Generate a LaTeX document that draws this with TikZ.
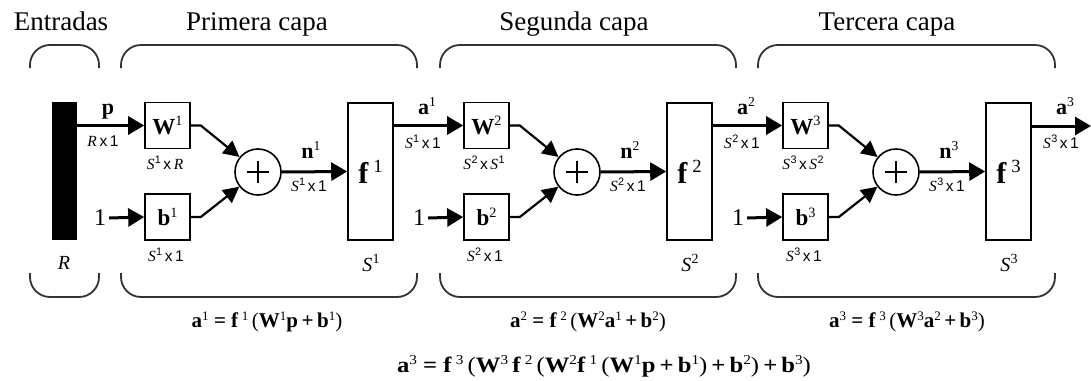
\documentclass[tikz,border=0pt]{standalone}
\usepackage{fontspec}
\usepackage{graphicx}
\setmainfont{Liberation Serif}
\setsansfont{Liberation Sans}
\usetikzlibrary{arrows.meta}
\newcommand\supr[1]{\raisebox{0.36em}{\mdseries\scalebox{0.62}{#1}}}
\newcommand\Sv[1]{{\rmfamily\itshape S}\kern0.3pt\raisebox{0.4em}{\scalebox{0.7}{#1}}}
\begin{document}
\begin{tikzpicture}[x=1pt,y=-1pt,
  box/.style={draw, line width=1.6pt, minimum width=45pt, minimum height=46pt, inner sep=0pt, font=\fontsize{23}{23}\selectfont\bfseries},
  fbox/.style={draw, line width=1.6pt, minimum width=45pt, minimum height=137pt, inner sep=0pt, font=\fontsize{30}{30}\selectfont\bfseries},
  sumnode/.style={draw, circle, line width=1.6pt, minimum size=46pt, inner sep=0pt},
  arr/.style={line width=3pt, -{Triangle[length=16pt,width=18pt]}},
  darr/.style={line width=2.2pt, -{Triangle[length=16pt,width=16pt]}},
  brace/.style={line width=1.8pt, rounded corners=20pt, draw=black!80},
  dimlab/.style={font=\fontsize{15.5}{15.5}\selectfont\sffamily, inner sep=0pt},
  toplab/.style={font=\fontsize{22}{22}\selectfont\bfseries, inner sep=0pt, anchor=base},
  onelab/.style={font=\fontsize{24}{24}\selectfont, inner ysep=0pt, inner xsep=3pt},
  slab/.style={font=\fontsize{20}{20}\selectfont, inner sep=0pt},
  head/.style={font=\fontsize{27}{27}\selectfont, inner sep=0pt, anchor=base},
  eqlab/.style={font=\fontsize{21}{21}\selectfont, inner sep=0pt}
]
\useasboundingbox (0,0) rectangle (1091,380);

% headers
\node[head] (hE) at (61,30) {Entradas};
\node[head] (hP) at (257,30) {Primera capa};
\node[head] (hS) at (574,30) {Segunda capa};
\node[head] (hT) at (887,30) {Tercera capa};

% braces
\foreach \a/\b in {30/99, 121/417, 440/736, 758/1055}{
  \draw[brace] (\a,68) -- (\a,45) -- (\b,45) -- (\b,68);
  \draw[brace] (\a,273) -- (\a,297) -- (\b,297) -- (\b,273);
}

% input bar
\node[fill=black, minimum width=25pt, minimum height=138pt, inner sep=0pt] (bar) at (64.5,171) {};
\node[slab] (Rlab) at (64,263) {\textit{R}};

% layers
\foreach \i/\o in {1/0, 2/319, 3/638}{
  \node[box] (W\i) at (167.5+\o,125.5) {W\supr{\i}};
  \node[box] (b\i) at (167.5+\o,217) {b\supr{\i}};
  \node[sumnode] (s\i) at (258+\o,172) {};
  \draw[line width=1.1pt] ([xshift=-11pt]s\i.center) -- ([xshift=11pt]s\i.center);
  \draw[line width=1.1pt] ([yshift=-11pt]s\i.center) -- ([yshift=11pt]s\i.center);
  \node[fbox] (f\i) at (370.5+\o,171.5) {f\,\supr{\i}};
  \node[onelab] (one\i) at (100+\o,218) {1};
  \draw[arr] (one\i.east) -- (b\i.west);
  \draw[darr] (W\i.east) -- ++(10,0) -- (s\i);
  \draw[darr] (b\i.east) -- ++(10,0) -- (s\i);
  \draw[arr] (s\i.east) -- (f\i.west);
  \node[toplab] (n\i) at (311+\o,158) {n\supr{\i}};
  \node[dimlab] (dn\i) at (309+\o,185) {\Sv{\i}\,x\,1};
  \node[dimlab] (db\i) at (166+\o,255) {\Sv{\i}\,x\,1};
  \node[slab] (Sf\i) at (371+\o,263) {\Sv{\i}};
}
\node[dimlab] (dW1) at (165,163) {\Sv{1}\,x\,{\rmfamily\itshape R}};
\node[dimlab] (dW2) at (484,163) {\Sv{2}\,x\,\Sv{1}};
\node[dimlab] (dW3) at (803,163) {\Sv{3}\,x\,\Sv{2}};

% inputs between layers
\draw[arr] (bar.east |- W1.west) -- (W1.west);
\draw[arr] (f1.east |- W2.west) -- (W2.west);
\draw[arr] (f2.east |- W3.west) -- (W3.west);
\coordinate (out) at (1091,126);
\draw[arr] (f3.east |- out) -- (out);

\node[toplab] (pl) at (108,114) {p};
\node[toplab] (a1l) at (427,114) {a\supr{1}};
\node[toplab] (a2l) at (746,114) {a\supr{2}};
\node[toplab] (a3l) at (1065,114) {a\supr{3}};
\node[dimlab] (dp) at (103,141) {{\rmfamily\itshape R}\,x\,1};
\node[dimlab] (da1) at (423,142) {\Sv{1}\,x\,1};
\node[dimlab] (da2) at (742,142) {\Sv{2}\,x\,1};
\node[dimlab] (da3) at (1061,142) {\Sv{3}\,x\,1};

% equations
\node[eqlab] (eq1) at (267,322) {\textbf{a}\supr{1} \textbf{=} \textbf{f}\,\supr{1}\,(\textbf{W}\supr{1}\textbf{p}\,\textbf{+}\,\textbf{b}\supr{1})};
\node[eqlab] (eq2) at (588,322) {\textbf{a}\supr{2} \textbf{=} \textbf{f}\,\supr{2}\,(\textbf{W}\supr{2}\textbf{a}\supr{1}\,\textbf{+}\,\textbf{b}\supr{2})};
\node[eqlab] (eq3) at (907,322) {\textbf{a}\supr{3} \textbf{=} \textbf{f}\,\supr{3}\,(\textbf{W}\supr{3}\textbf{a}\supr{2}\,\textbf{+}\,\textbf{b}\supr{3})};
\node[eqlab, font=\fontsize{22}{22}\selectfont] (eq4) at (604,366) {\scalebox{1.12}[1]{\textbf{a}\supr{3} \textbf{=} \textbf{f}\,\supr{3}\,(\textbf{W}\supr{3}\,\textbf{f}\,\supr{2}\,(\textbf{W}\supr{2}\textbf{f}\,\supr{1}\,(\textbf{W}\supr{1}\textbf{p}\,\textbf{+}\,\textbf{b}\supr{1})\,\textbf{+}\,\textbf{b}\supr{2})\,\textbf{+}\,\textbf{b}\supr{3})}};
\end{tikzpicture}
\end{document}
